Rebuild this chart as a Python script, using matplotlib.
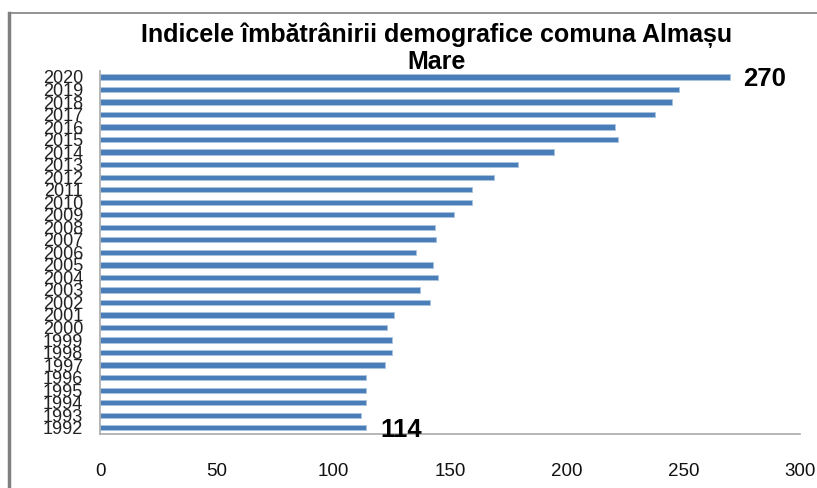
import matplotlib.pyplot as plt
from matplotlib.lines import Line2D

years = [str(y) for y in range(1992, 2021)]
values = [114, 112, 114, 114, 114, 122, 125, 125, 123, 126, 141.5, 137, 145, 142.5,
          135.5, 144, 143.5, 151.5, 159.5, 159.5, 169, 179, 194.5, 222, 220.5, 238, 245, 248, 270]
xticks = [0, 50, 100, 150, 200, 250, 300]
title = "Indicele îmbătrânirii demografice comuna Almașu\nMare"
annot_max = "270"
annot_min = "114"

plt.rcParams['font.family'] = ['Liberation Sans', 'DejaVu Sans']

fig = plt.figure(figsize=(8.17, 4.88), dpi=100)
fig.patch.set_facecolor('white')
ax = fig.add_axes([100/817, 1-434/488, 700/817, (434-70.7)/488])

ypos = list(range(len(years)))
ax.barh(ypos, values, height=0.42, color='#4a7eb8', edgecolor='#a9c3e2', linewidth=0.6)
ax.set_xlim(0, 300)
ax.set_ylim(-0.5, len(years) - 0.5)
ax.set_yticks(ypos)
ax.set_yticklabels(years, fontsize=13, color='#222222')
ax.set_xticks(xticks)
ax.set_xticklabels([str(t) for t in xticks], fontsize=13.5, color='#111111')
ax.tick_params(axis='both', length=0)
ax.tick_params(axis='x', pad=21)
ax.tick_params(axis='y', pad=12)
for s in ['top', 'right']:
    ax.spines[s].set_visible(False)
for s in ['left', 'bottom']:
    ax.spines[s].set_color('#aaaaaa')
    ax.spines[s].set_linewidth(1.2)

ax.text(values[-1] + 5.5, ypos[-1] - 0.2, annot_max, fontsize=18.5, fontweight='bold',
        va='center', ha='left', clip_on=False)
ax.text(values[0] + 6, ypos[0] - 0.2, annot_min, fontsize=18.5, fontweight='bold',
        va='center', ha='left', clip_on=False)

fig.text(437/817, 1-48/488, title, fontsize=18, fontweight='bold',
         ha='center', va='center', linespacing=1.1)

# outer frame
fig.add_artist(Line2D([9/817, 9/817], [0, 1-13/488], transform=fig.transFigure,
                      color='#808080', lw=2.5))
fig.add_artist(Line2D([9/817, 1], [1-13/488, 1-13/488], transform=fig.transFigure,
                      color='#808080', lw=1.2))

fig.savefig('out.png', dpi=100, facecolor='white')
